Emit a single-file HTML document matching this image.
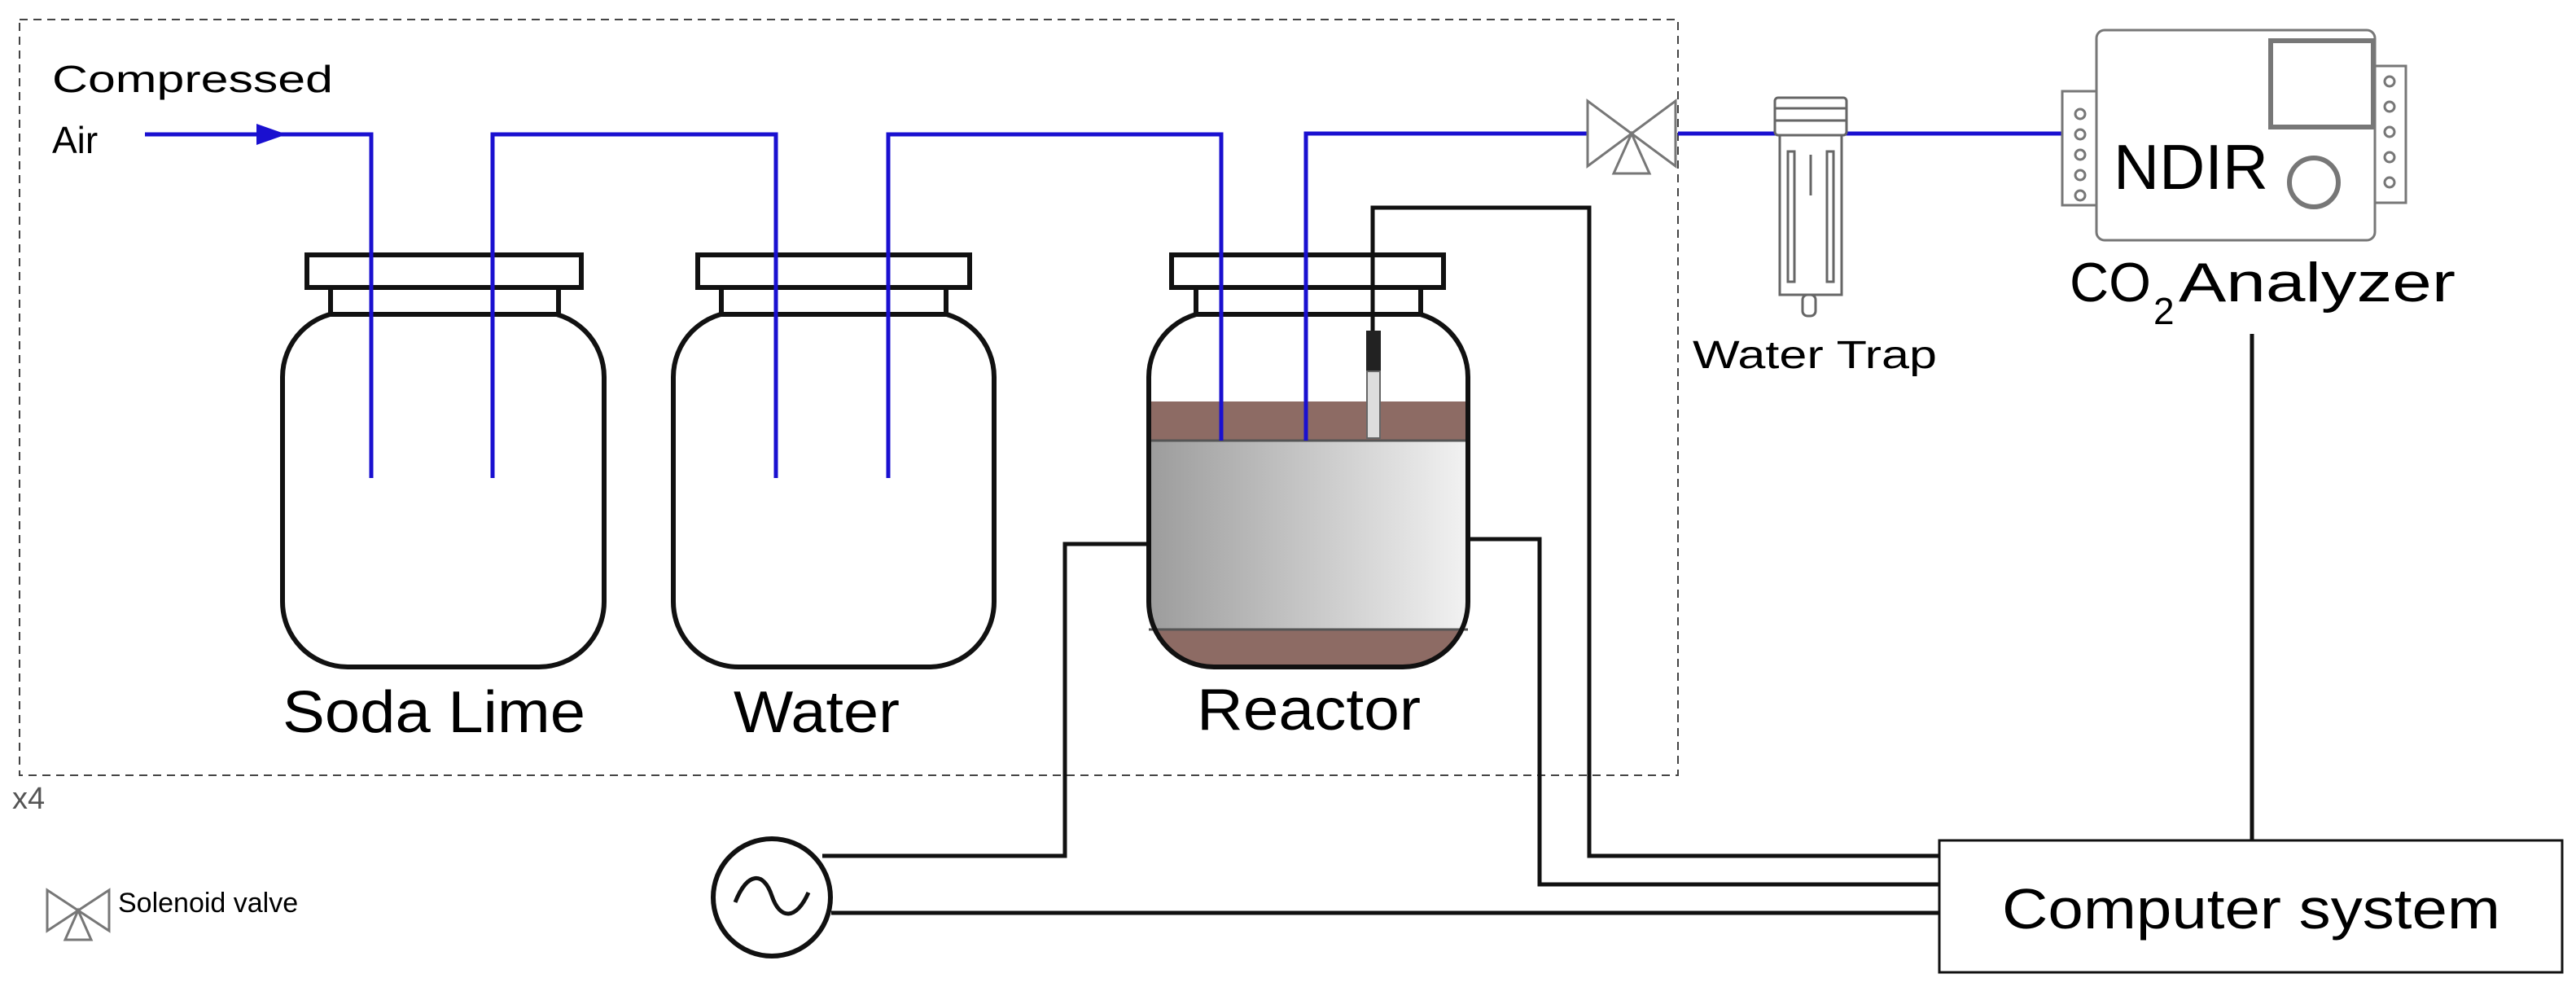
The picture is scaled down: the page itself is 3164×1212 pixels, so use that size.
<!DOCTYPE html>
<html><head><meta charset="utf-8"><style>html,body{margin:0;padding:0;background:#fff}svg{display:block}</style></head>
<body>
<svg width="3164" height="1212" viewBox="0 0 3164 1212" xmlns="http://www.w3.org/2000/svg" font-family="Liberation Sans, Arial, sans-serif">
<defs>
<linearGradient id="g" x1="0" x2="1" y1="0" y2="0"><stop offset="0" stop-color="#9c9c9c"/><stop offset="1" stop-color="#f2f2f2"/></linearGradient>
<clipPath id="rc"><rect x="1411" y="383" width="392" height="436" rx="80"/></clipPath>
</defs>
<rect x="24" y="24" width="2037" height="928" fill="none" stroke="#444" stroke-width="2" stroke-dasharray="10,7"/>
<text x="15" y="993" font-size="38" fill="#555">x4</text>
<text x="64" y="113" font-size="46" textLength="345" lengthAdjust="spacingAndGlyphs">Compressed</text>
<text x="64" y="188" font-size="46">Air</text>

<!-- jars -->
<g fill="#fff" stroke="#111" stroke-width="6">
<rect x="347" y="383" width="395" height="436" rx="80"/>
<rect x="406" y="353" width="280" height="33"/>
<rect x="377" y="313" width="337" height="40"/>
<rect x="827" y="383" width="394" height="436" rx="80"/>
<rect x="886" y="353" width="276" height="33"/>
<rect x="857" y="313" width="334" height="40"/>
</g>
<g clip-path="url(#rc)">
<rect x="1411" y="383" width="392" height="436" fill="#fff"/>
<rect x="1411" y="493" width="392" height="50" fill="#8d6b64"/>
<rect x="1411" y="541" width="392" height="232" fill="url(#g)"/>
<rect x="1411" y="773" width="392" height="50" fill="#8d6b64"/>
</g>
<line x1="1411" y1="541" x2="1803" y2="541" stroke="#555" stroke-width="3"/>
<line x1="1411" y1="773" x2="1803" y2="773" stroke="#555" stroke-width="3"/>
<g fill="none" stroke="#111" stroke-width="6">
<rect x="1411" y="383" width="392" height="436" rx="80"/>
<rect x="1469" y="353" width="276" height="33" fill="#fff"/>
<rect x="1439" y="313" width="334" height="40" fill="#fff"/>
</g>

<!-- blue tubing -->
<g fill="none" stroke="#1a10d0" stroke-width="5">
<polyline points="178,165 456,165 456,587"/>
<polyline points="605,587 605,165 953,165 953,587"/>
<polyline points="1091,587 1091,165 1500,165 1500,541"/>
<polyline points="1604,541 1604,164 1950,164"/>
<line x1="2061" y1="164" x2="2548" y2="164"/>
</g>
<polygon points="315,152 352,165 315,178" fill="#1a10d0"/>

<!-- probe -->
<polyline points="1686,410 1686,255 1952,255 1952,1051 2382,1051" fill="none" stroke="#111" stroke-width="5"/>
<rect x="1678" y="406" width="18" height="50" fill="#222"/>
<rect x="1679" y="456" width="16" height="82" fill="#ddd" stroke="#666" stroke-width="2"/>

<!-- heater lines -->
<g fill="none" stroke="#111" stroke-width="5">
<polyline points="1411,668 1308,668 1308,1051 1010,1051"/>
<polyline points="1803,662 1891,662 1891,1086 2382,1086"/>
<polyline points="1021,1121 2382,1121"/>
<line x1="2766" y1="410" x2="2766" y2="1032"/>
</g>
<circle cx="948" cy="1102" r="72" fill="#fff" stroke="#111" stroke-width="6"/>
<path d="M903,1108 C918,1070 938,1070 948,1100 C958,1130 978,1130 993,1096" fill="none" stroke="#111" stroke-width="5"/>

<!-- valve -->
<g fill="#fff" stroke="#777" stroke-width="3">
<polygon points="1950,124 2004,164 1950,204"/>
<polygon points="2058,124 2004,164 2058,204"/>
<polygon points="2004,164 1982,213 2026,213"/>
</g>

<!-- water trap -->
<g fill="#fff" stroke="#666" stroke-width="3">
<rect x="2180" y="120" width="88" height="46" rx="4"/>
<line x1="2180" y1="133" x2="2268" y2="133"/><line x1="2180" y1="148" x2="2268" y2="148"/>
<rect x="2186" y="166" width="76" height="196"/>
<rect x="2196" y="186" width="8" height="160"/><rect x="2244" y="186" width="8" height="160"/>
<rect x="2214" y="362" width="16" height="26" rx="6"/>
</g>
<line x1="2224" y1="190" x2="2224" y2="240" stroke="#666" stroke-width="3"/>
<text x="2079" y="452" font-size="48" textLength="300" lengthAdjust="spacingAndGlyphs">Water Trap</text>

<!-- analyzer -->
<g fill="#fff" stroke="#777" stroke-width="3">
<rect x="2533" y="112" width="44" height="140"/>
<rect x="2915" y="81" width="40" height="168"/>
<rect x="2575" y="37" width="342" height="258" rx="10"/>
<rect x="2789" y="50" width="126" height="106" stroke-width="6"/>
<circle cx="2842" cy="224" r="30" stroke-width="6"/>
<circle cx="2555" cy="140" r="6"/><circle cx="2555" cy="165" r="6"/><circle cx="2555" cy="190" r="6"/><circle cx="2555" cy="215" r="6"/><circle cx="2555" cy="240" r="6"/>
<circle cx="2935" cy="100" r="6"/><circle cx="2935" cy="131" r="6"/><circle cx="2935" cy="162" r="6"/><circle cx="2935" cy="193" r="6"/><circle cx="2935" cy="224" r="6"/>
</g>
<text x="2596" y="232" font-size="78" textLength="190" lengthAdjust="spacingAndGlyphs">NDIR</text>
<text x="2542" y="370" font-size="68" textLength="100" lengthAdjust="spacingAndGlyphs">CO</text>
<text x="2645" y="398" font-size="46">2</text>
<text x="2676" y="370" font-size="68" textLength="340" lengthAdjust="spacingAndGlyphs">Analyzer</text>

<!-- computer -->
<rect x="2382" y="1032" width="765" height="162" fill="#fff" stroke="#111" stroke-width="3"/>
<text x="2459" y="1140" font-size="70" textLength="612" lengthAdjust="spacingAndGlyphs">Computer system</text>

<!-- labels -->
<text x="347" y="899" font-size="72" textLength="372" lengthAdjust="spacingAndGlyphs">Soda Lime</text>
<text x="901" y="899" font-size="72" textLength="204" lengthAdjust="spacingAndGlyphs">Water</text>
<text x="1470" y="896" font-size="72" textLength="275" lengthAdjust="spacingAndGlyphs">Reactor</text>

<!-- legend -->
<g fill="#fff" stroke="#777" stroke-width="3">
<polygon points="58,1093 96,1118 58,1143"/>
<polygon points="134,1093 96,1118 134,1143"/>
<polygon points="96,1118 80,1154 112,1154"/>
</g>
<text x="145" y="1120" font-size="34">Solenoid valve</text>
</svg>
</body></html>
